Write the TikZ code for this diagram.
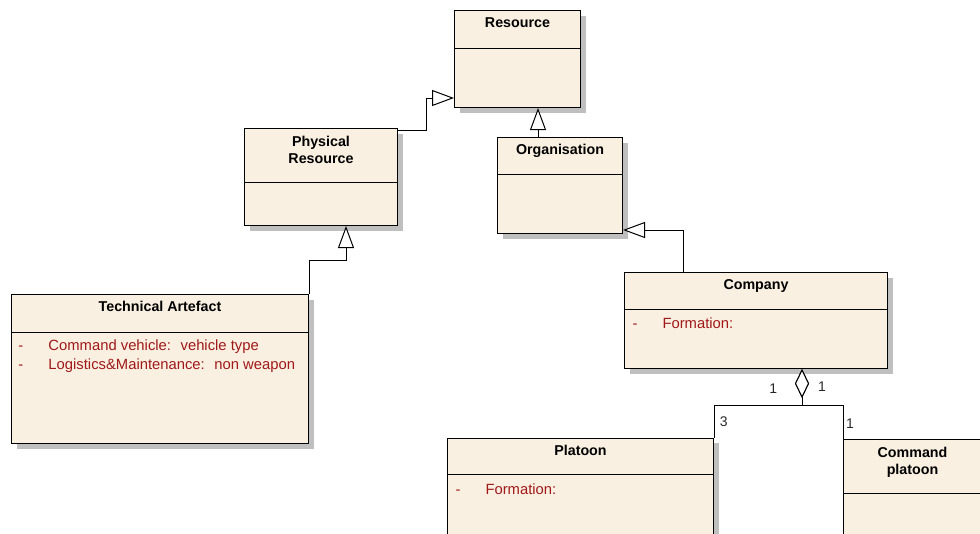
\documentclass[tikz,border=0pt]{standalone}
\usepackage{fontspec}
\setmainfont{Liberation Sans}
\usetikzlibrary{arrows.meta,shadows}
\definecolor{classfill}{RGB}{250,240,225}
\definecolor{attrred}{RGB}{160,24,24}
\definecolor{multgray}{RGB}{40,40,40}

\begin{document}
\begin{tikzpicture}[x=0.75pt, y=-0.75pt, line width=0.75pt,
  classbox/.style={draw, fill=classfill, anchor=north west, inner sep=0pt,
    drop shadow={shadow xshift=3.75pt, shadow yshift=-3.75pt, fill=black!25, opacity=1}},
  ctitle/.style={font=\fontsize{10.7}{12.75}\selectfont\bfseries, align=center, anchor=base, inner sep=0pt},
  cattr/.style={font=\fontsize{11.1}{14}\selectfont, text=attrred, anchor=base west, inner sep=0pt},
  mult/.style={font=\fontsize{10.5}{12}\selectfont, text=multgray, inner sep=0pt},
  gen/.style={-{Triangle[open, fill=white, length=16.5pt, width=12pt]}},
  agg/.style={{Diamond[open, fill=white, length=21.75pt, width=10.5pt]}-}]
\useasboundingbox (0,0) rectangle (980,533);
\clip (0,0) rectangle (980,533);

% classes
\node[classbox, minimum width=94.5pt, minimum height=72.75pt] (res) at (454,10) {};
\draw ([yshift=-28.5pt]res.north west) -- ([yshift=-28.5pt]res.north east);
\node[ctitle] at ([yshift=-13.3pt]res.north) {Resource};

\node[classbox, minimum width=93.75pt, minimum height=72pt] (org) at (497,137) {};
\draw ([yshift=-27.75pt]org.north west) -- ([yshift=-27.75pt]org.north east);
\node[ctitle] at ([yshift=-13.3pt]org.north) {Organisation};

\node[classbox, minimum width=114.75pt, minimum height=72.75pt] (phys) at (244,128) {};
\draw ([yshift=-40.9pt]phys.north west) -- ([yshift=-40.9pt]phys.north east);
\node[ctitle] at ([yshift=-26.25pt]phys.north) {Physical\\Resource};

\node[classbox, minimum width=222.75pt, minimum height=111.75pt] (ta) at (11,294) {};
\draw ([yshift=-28.5pt]ta.north west) -- ([yshift=-28.5pt]ta.north east);
\node[ctitle] at ([yshift=-13.3pt]ta.north) {Technical Artefact};
\node[cattr] at ([xshift=5.25pt, yshift=-42.4pt]ta.north west) {\makebox[22.5pt][l]{-}Command vehicle:~ vehicle type};
\node[cattr] at ([xshift=5.25pt, yshift=-56.65pt]ta.north west) {\makebox[22.5pt][l]{-}Logistics\&Maintenance:~ non weapon};

\node[classbox, minimum width=197.25pt, minimum height=72pt] (comp) at (624,272) {};
\draw ([yshift=-28.1pt]comp.north west) -- ([yshift=-28.1pt]comp.north east);
\node[ctitle] at ([yshift=-13.3pt]comp.north) {Company};
\node[cattr] at ([xshift=6pt, yshift=-42.4pt]comp.north west) {\makebox[22.5pt][l]{-}Formation:};

\node[classbox, minimum width=199.5pt, minimum height=105pt] (plat) at (447,437.5) {};
\draw ([yshift=-28.1pt]plat.north west) -- ([yshift=-28.1pt]plat.north east);
\node[ctitle] at ([yshift=-13.3pt]plat.north) {Platoon};
\node[cattr] at ([xshift=6pt, yshift=-42.4pt]plat.north west) {\makebox[22.5pt][l]{-}Formation:};

\node[classbox, minimum width=103.5pt, minimum height=105pt] (cmd) at (843,439) {};
\draw ([yshift=-40.7pt]cmd.north west) -- ([yshift=-40.7pt]cmd.north east);
\node[ctitle] at ([yshift=-26.25pt]cmd.north) {Command\\platoon};

% generalisations
\draw[gen] ([yshift=-1.5pt]phys.north east) -| ([xshift=-21pt, yshift=7.5pt]res.south west) -- ([yshift=7.5pt]res.south west);
\draw[gen] ([xshift=30.75pt]org.north west) -- ([xshift=63pt]res.south west);
\draw[gen] (ta.north east) -- ++(0,-34) -| ([xshift=76.5pt]phys.south west);
\draw[gen] ([xshift=44.25pt]comp.north west) |- ([yshift=3pt]org.south east);

% aggregation
\draw[agg] ([xshift=133.5pt]comp.south west) -- ++(0,36) -| (plat.north east);
\draw[agg] ([xshift=133.5pt]comp.south west) -- ++(0,36) -| (cmd.north west);
\node[mult] at ([xshift=112pt, yshift=-14.8pt]comp.south west) {1};
\node[mult] at ([xshift=148.5pt, yshift=-13.3pt]comp.south west) {1};
\node[mult] at ([xshift=7.3pt, yshift=12pt]plat.north east) {3};
\node[mult] at ([xshift=5.25pt, yshift=11.8pt]cmd.north west) {1};
\end{tikzpicture}
\end{document}
